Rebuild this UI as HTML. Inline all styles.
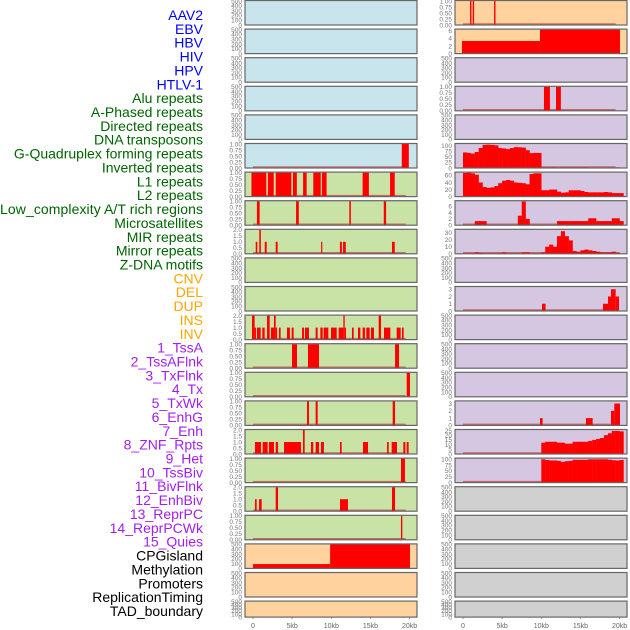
<!DOCTYPE html>
<html><head><meta charset="utf-8">
<style>
html,body{margin:0;padding:0;background:#fff;width:630px;height:630px;overflow:hidden}
svg{display:block;font-family:"Liberation Sans",sans-serif}
</style></head>
<body>
<svg id="chart" width="630" height="630" viewBox="0 0 630 630" xmlns="http://www.w3.org/2000/svg">
<g id="labels"></g>
<g id="panels"></g>
<g id="xaxes"></g>
</svg>
<script>
// ---- labels ----
const labelNames = ["AAV2","EBV","HBV","HIV","HPV","HTLV-1",
"Alu repeats","A-Phased repeats","Directed repeats","DNA transposons","G-Quadruplex forming repeats","Inverted repeats","L1 repeats","L2 repeats","Low_complexity A/T rich regions","Microsatellites","MIR repeats","Mirror repeats","Z-DNA motifs",
"CNV","DEL","DUP","INS","INV",
"1_TssA","2_TssAFlnk","3_TxFlnk","4_Tx","5_TxWk","6_EnhG","7_Enh","8_ZNF_Rpts","9_Het","10_TssBiv","11_BivFlnk","12_EnhBiv","13_ReprPC","14_ReprPCWk","15_Quies",
"CPGisland","Methylation","Promoters","ReplicationTiming","TAD_boundary"];
const labelGroupSizes = [6,13,5,15,5];
const labelGroupColors = ["#0000ff","#006400","#ffa500","#a020f0","#000000"];

// ---- axis ticks ----
const xTickValues = [0,5,10,15,20];
const xTickLabels = ["0","5kb","10kb","15kb","20kb"];
const countTicks = ["0","100","200","300","400","500"];
const fracTicks = ["0.00","0.25","0.50","0.75","1.00"];
const twoTicks = ["0.0","0.5","1.0","1.5","2.0"];

// ---- left column interval data [startKb, endKb, value] ----
const L5_bars = [[19.0,19.9,1]];
const L6_bars = [[-0.2,1.7,1],[1.9,2.65,1],[2.9,4.9,1],[5.1,5.6,1],[6.4,6.85,1],[7.7,8.65,1],[8.8,9.4,1],[14.0,14.8,1],[17.5,18.1,1]];
const L7_bars = [[0.5,0.85,1],[5.5,5.85,1],[12.3,12.5,1],[16.7,17.0,1]];
const L8_bars = [[0.35,0.55,1],[0.8,1.0,2],[1.5,1.75,1],[2.9,3.15,1],[8.7,8.85,1],[11.1,11.35,1],[11.5,11.85,1],[17.75,18.1,1]];
const L11_bars = [[-0.13,0.21,2],[0.21,0.38,1],[0.51,0.98,1],[1.19,1.49,1],[1.79,2.13,2],[2.3,2.68,1],[2.68,2.9,2],[2.9,3.07,1],[3.32,3.53,1],[4.34,4.72,1],[4.94,5.19,1],[6.26,6.51,1],[6.64,7.15,1],[8.0,8.26,1],[8.6,8.9,1],[9.02,9.62,1],[9.96,10.69,1],[10.94,11.54,1],[11.54,11.71,2],[11.71,11.88,1],[12.64,12.86,1],[13.41,13.71,1],[14.0,14.3,1],[14.47,14.9,1],[15.07,15.45,1],[16.05,16.35,2],[16.73,17.54,1],[18.35,18.86,1],[19.03,19.24,1]];
const L12_bars = [[4.98,5.62,1],[7.02,8.43,1],[18.14,18.65,1]];
const L13_bars = [[19.63,20.05,1]];
const L14_bars = [[6.9,7.15,1],[8.0,8.26,1],[17.84,18.14,1]];
const L15_bars = [[0.25,1.02,1],[1.23,1.87,1],[2.04,2.68,1],[2.9,3.2,1],[3.96,6.13,1],[6.38,6.6,2],[7.4,7.7,1],[8.0,8.43,1],[8.68,9.06,1],[11.11,11.32,1],[14.05,14.69,1],[17.12,17.33,1],[17.71,18.39,1],[19.2,19.46,1],[19.63,19.88,1]];
const L16_bars = [[18.9,19.41,1]];
const L17_bars = [[0.25,0.47,1],[0.77,1.11,1],[2.9,3.2,2],[11.11,12.13,1],[17.75,18.14,2]];
const L18_bars = [[18.9,19.07,1]];
const L19_bars = [[0,9.85,90],[9.85,20.05,500]];

// ---- right column interval data ----
const R0_bars = [[0.9,1.08,1],[1.24,1.42,1],[3.97,4.15,1]];
const R1_bars = [[-0.13,9.83,3.3],[9.83,20.05,6.3]];
const R3_bars = [[10.34,11.1,1],[11.88,12.5,1]];
const R10_bars = [[10.09,10.55,1],[17.88,18.52,1],[18.52,18.9,2],[18.9,19.5,3],[19.5,19.93,2]];
const R14_bars = [[9.83,10.17,1],[15.7,16.56,1],[18.9,19.33,2],[19.33,20.05,3]];

// ---- right column histograms (0.5 kb bins starting at 0) ----
const R5_hist = [70,68,65,72,90,104,105,104,102,90,88,85,90,94,93,92,80,67,68,68,3,3,3,3,1,3,3,3,3,3,3,3,0,0,0,0,0,2,1,3,0];
const R6_hist = [67,68,66,62,40,27,25,26,30,38,45,47,45,40,39,38,35,64,66,66,18,18,20,20,14,11,12,18,18,18,16,13,12,12,12,12,13,12,10,10,10];
const R7_hist = [0.2,0.2,0.2,1.3,1.3,1.3,0.1,0.1,0.1,0.1,0.1,0.1,0.1,0.1,3,7.5,2,0.1,0.1,0.1,0.1,0.1,0.1,0.1,1.3,1.3,1.3,1.3,1.3,1.3,1.3,1.3,2.2,2.2,1.3,1.3,1.3,1.3,2.2,2.2,1.3];
const R8_hist = [0,0,0,2,1,0,0,0,0,1,2,0,0,0,0,2,2,0,0,0,2,10,13,10,25,32,25,19,4,3,5,6,5,4,3,2,2,2,3,2,0];
const R15_hist = [0.3,0.3,0.3,0.3,0.3,0.3,0.3,0.3,0.3,0.3,0.3,0.3,0.3,0.3,0.3,0.3,0.3,0.3,0.3,0.3,12,13,13,13,12,12,11,11,13,13,13,13,14,15,16,17,20,22,24.5,24.5,24];
const R16_hist = [0.3,0.3,0.3,0.3,0.3,0.3,0.3,0.3,0.3,0.3,0.3,0.3,0.3,0.3,0.3,0.3,0.3,0.3,0.3,0.3,100,97,95,95,93,89,92,93,98,98,98,98,100,100,100,100,100,98,96,95,97];

// ---- background colours per row ----
const BLUE="#c8e4ec", PEACH="#ffd29e", LAV="#d5c6e2", GREEN="#c9e2a5", GRAY="#d0d0d0";
const leftBg = [BLUE,BLUE,BLUE,BLUE,BLUE,BLUE,GREEN,GREEN,GREEN,GREEN,GREEN,GREEN,GREEN,GREEN,GREEN,GREEN,GREEN,GREEN,GREEN,PEACH,PEACH,PEACH];
const rightBg = [PEACH,PEACH,LAV,LAV,LAV,LAV,LAV,LAV,LAV,LAV,LAV,LAV,LAV,LAV,LAV,LAV,LAV,GRAY,GRAY,GRAY,GRAY,GRAY];

const leftPanels = [
 {ymax:500,ticks:countTicks},{ymax:500,ticks:countTicks},{ymax:500,ticks:countTicks},{ymax:500,ticks:countTicks},{ymax:500,ticks:countTicks},
 {ymax:1,ticks:fracTicks,bars:L5_bars},{ymax:1,ticks:fracTicks,bars:L6_bars},{ymax:1,ticks:fracTicks,bars:L7_bars},
 {ymax:2,ticks:twoTicks,bars:L8_bars},{ymax:500,ticks:countTicks},{ymax:500,ticks:countTicks},
 {ymax:2,ticks:twoTicks,bars:L11_bars},{ymax:1,ticks:fracTicks,bars:L12_bars},{ymax:1,ticks:fracTicks,bars:L13_bars},
 {ymax:1,ticks:fracTicks,bars:L14_bars},{ymax:2,ticks:twoTicks,bars:L15_bars},{ymax:1,ticks:fracTicks,bars:L16_bars},
 {ymax:2,ticks:twoTicks,bars:L17_bars},{ymax:1,ticks:fracTicks,bars:L18_bars},{ymax:500,ticks:countTicks,bars:L19_bars,nobase:true},
 {ymax:500,ticks:countTicks},{ymax:500,ticks:countTicks}];
const rightPanels = [
 {ymax:1,ticks:fracTicks,bars:R0_bars},{ymax:6.3,ticks:["0","2","4","6"],tmax:6,bars:R1_bars,nobase:true},{ymax:500,ticks:countTicks},
 {ymax:1,ticks:fracTicks,bars:R3_bars},{ymax:500,ticks:countTicks},
 {ymax:108,ticks:["0","25","50","75","100"],tmax:100,hist:R5_hist},{ymax:68,ticks:["0","20","40","60"],tmax:60,hist:R6_hist},
 {ymax:7.6,ticks:["0","2","4","6"],tmax:6,hist:R7_hist},{ymax:34,ticks:["0","10","20","30"],tmax:30,hist:R8_hist},
 {ymax:500,ticks:countTicks},{ymax:3.3,ticks:["0","1","2","3"],tmax:3,bars:R10_bars},
 {ymax:500,ticks:countTicks},{ymax:500,ticks:countTicks},{ymax:500,ticks:countTicks},
 {ymax:3.3,ticks:["0","1","2","3"],tmax:3,bars:R14_bars},{ymax:25.5,ticks:["0","5","10","15","20","25"],tmax:25,hist:R15_hist},
 {ymax:103,ticks:["0","25","50","75","100"],tmax:100,hist:R16_hist},
 {ymax:500,ticks:countTicks},{ymax:500,ticks:countTicks},{ymax:500,ticks:countTicks},{ymax:500,ticks:countTicks},{ymax:500,ticks:countTicks}];

const NS="http://www.w3.org/2000/svg";
function mk(tag,attrs,parent){const e=document.createElementNS(NS,tag);for(const k in attrs)e.setAttribute(k,attrs[k]);parent.appendChild(e);return e;}

// labels
const lg=document.getElementById('labels');
let li=0;
labelGroupSizes.forEach((n,g)=>{for(let j=0;j<n;j++){
  const t=mk('text',{x:203,y:15+li*13.86+5,'text-anchor':'end','font-size':'14',fill:labelGroupColors[g]},lg);
  
  
  t.textContent=labelNames[li];
  if(labelNames[li].length>28) t.setAttribute('textLength','203');
  li++;}});

// scales
const PXKB=7.83;
function xScale(col,kb){return (col===0?253:463)+kb*PXKB;}
function rowTop(i){return 0.5+28.6*i;}
function rowH(i){return i===21?16:24.5;}

const pg=document.getElementById('panels');
function drawPanel(col,i,p,bg){
  const left=col===0?245:455, w=172, top=rowTop(i), h=rowH(i), bot=top+h;
  const g=mk('g',{},pg);
  
  
  mk('rect',{x:left,y:top,width:w,height:h,fill:bg},g);
  const y=v=>bot-Math.min(v,p.ymax)/p.ymax*(h-0.5);
  const hasData=p.bars||p.hist;
  if(hasData && !p.nobase){
    mk('line',{x1:xScale(col,0),x2:xScale(col,19.5),y1:bot-1,y2:bot-1,stroke:'rgba(190,20,20,0.55)','stroke-width':1.5},g);
  }
  if(p.bars){p.bars.forEach(b=>{
    const r=mk('rect',{x:xScale(col,b[0]),y:y(b[2]),width:Math.max(1,(b[1]-b[0])*PXKB),height:bot-y(b[2]),fill:'#ff0000'},g);
    
    
  });}
  if(p.hist){p.hist.forEach((v,k)=>{
    if(v<=0) return;
    const r=mk('rect',{x:xScale(col,k*0.5),y:y(v),width:0.5*PXKB+0.2,height:bot-y(v),fill:'#ff0000'},g);
    
    
  });}
  mk('rect',{x:left,y:top,width:w,height:h,fill:'none',stroke:'#666','stroke-width':1.2},g);
  // y ticks
  const n=p.ticks.length, tmax=p.tmax!==undefined?p.tmax:p.ymax;
  p.ticks.forEach((t,k)=>{
    const val=tmax*k/(n-1);
    const ty=bot-val/p.ymax*(h-0.5);
    const tx=mk('text',{x:left-3,y:ty+2.3,'text-anchor':'end','font-size':'6.5',fill:'#777'},g);
    
    
    tx.textContent=t;
  });
}
leftPanels.forEach((p,i)=>drawPanel(0,i,p,leftBg[i]));
rightPanels.forEach((p,i)=>drawPanel(1,i,p,rightBg[i]));

// x axes
const xg=document.getElementById('xaxes');
[0,1].forEach(col=>{
  xTickValues.forEach((v,k)=>{
    const x=xScale(col,v);
    mk('line',{x1:x,x2:x,y1:617,y2:619,stroke:'#777','stroke-width':0.8},xg);
    const t=mk('text',{x:x,y:628,'text-anchor':'middle','font-size':'7',fill:'#666'},xg);
    
    
    t.textContent=xTickLabels[k];
  });
});
</script>
</body></html>
